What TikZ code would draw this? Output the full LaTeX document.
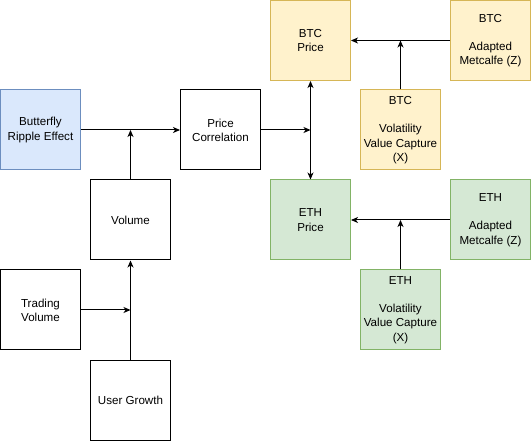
\documentclass[tikz,border=0pt]{standalone}
\usepackage{fontspec}
\setmainfont{Liberation Sans}
\usetikzlibrary{arrows.meta}
\definecolor{bluef}{HTML}{DAE8FC}\definecolor{blued}{HTML}{6C8EBF}
\definecolor{yelf}{HTML}{FFF2CC}\definecolor{yeld}{HTML}{D6B656}
\definecolor{grnf}{HTML}{D5E8D4}\definecolor{grnd}{HTML}{82B366}
\begin{document}
\begin{tikzpicture}[x=1pt,y=-1pt,
  box/.style={draw,line width=1pt,minimum width=80pt,minimum height=80pt,inner sep=0pt,align=center,font=\fontsize{11.6}{14.2}\selectfont},
  bluebox/.style={box,fill=bluef,draw=blued},
  yelbox/.style={box,fill=yelf,draw=yeld},
  grnbox/.style={box,fill=grnf,draw=grnd},
  conn/.style={line width=1pt,-{Stealth[length=7pt,width=6pt,inset=2pt]}},
  conn2/.style={line width=1pt,{Stealth[length=7pt,width=6pt,inset=2pt]}-{Stealth[length=7pt,width=6pt,inset=2pt]}}]
\useasboundingbox (0,0) rectangle (531,441);
\node[bluebox] (bf) at (40.5,130) {Butterfly\\Ripple Effect};
\node[box] (pc) at (220.5,130) {Price\\Correlation};
\node[box] (vol) at (130.5,220) {Volume};
\node[box] (tv) at (40.5,310) {Trading\\Volume};
\node[box] (ug) at (130.5,400) {User Growth};
\node[yelbox] (btcp) at (310.5,40.5) {BTC\\Price};
\node[yelbox] (btcz) at (490.5,40.5) {BTC\\[\baselineskip]Adapted\\Metcalfe (Z)};
\node[yelbox] (btcx) at (400.5,130) {BTC\\[\baselineskip]Volatility\\Value Capture\\(X)};
\node[grnbox] (ethp) at (310.5,220) {ETH\\Price};
\node[grnbox] (ethz) at (490.5,220) {ETH\\[\baselineskip]Adapted\\Metcalfe (Z)};
\node[grnbox] (ethx) at (400.5,310) {ETH\\[\baselineskip]Volatility\\Value Capture\\(X)};
\coordinate (j1) at (130.5,130);
\coordinate (j2) at (130.5,310);
\coordinate (j3) at (310.5,130);
\coordinate (j4) at (400.5,40.5);
\coordinate (j5) at (400.5,220);
\draw[conn] (bf.east) -- (pc.west);
\draw[conn] (vol.north) -- (j1);
\draw[conn] (tv.east) -- (j2);
\draw[conn] (ug.north) -- (vol.south);
\draw[conn] (pc.east) -- (j3);
\draw[conn2] (btcp.south) -- (ethp.north);
\draw[conn] (btcz.west) -- (btcp.east);
\draw[conn] (btcx.north) -- (j4);
\draw[conn] (ethz.west) -- (ethp.east);
\draw[conn] (ethx.north) -- (j5);
\end{tikzpicture}
\end{document}
